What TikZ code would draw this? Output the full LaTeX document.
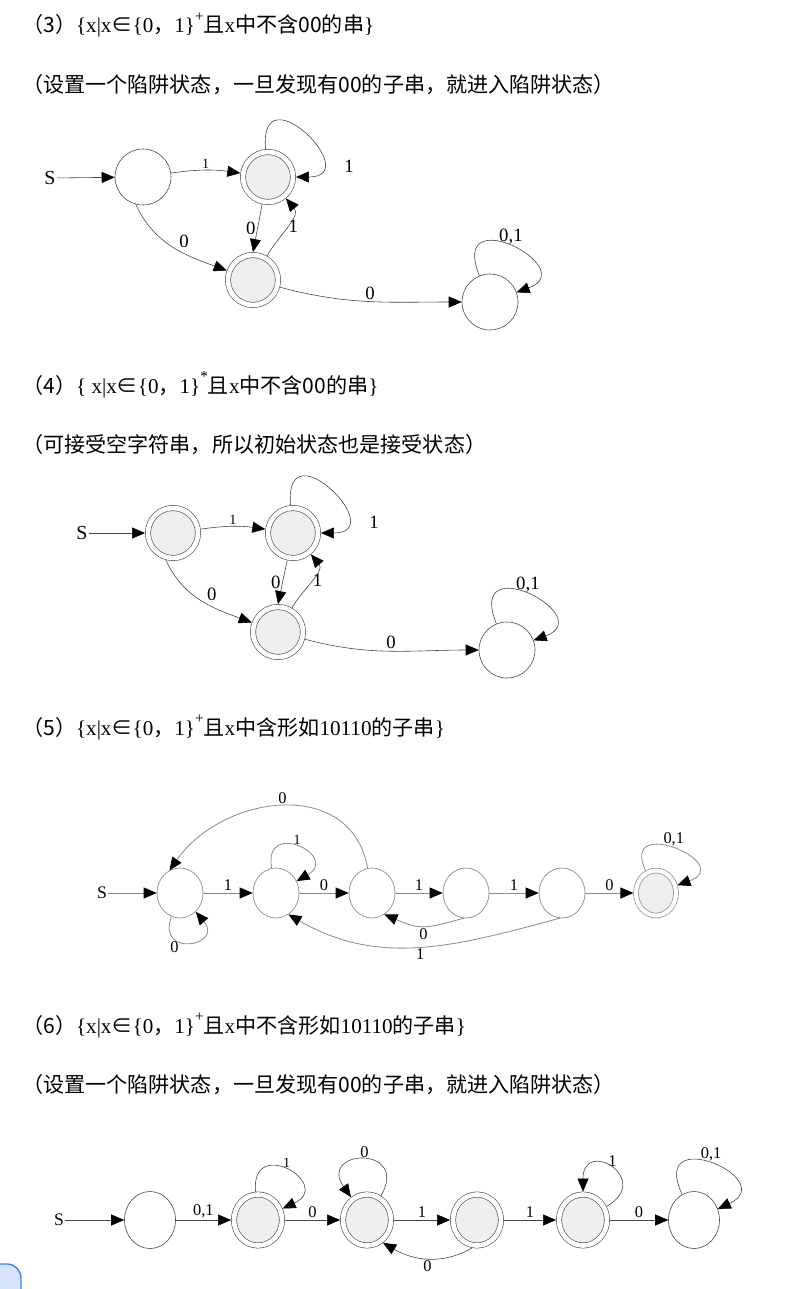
\documentclass[tikz,border=0pt]{standalone}
\usepackage{fontspec}
\setmainfont{Liberation Serif}
\newfontfamily\cjk{Noto Sans CJK SC}
\usepackage{tikz}
\usetikzlibrary{arrows.meta,positioning,shapes.geometric}
\definecolor{edgegray}{HTML}{444444}
\definecolor{lightedge}{HTML}{8C8C8C}
\definecolor{accfill}{HTML}{EFEFEF}
\definecolor{bubble}{HTML}{D6E4FD}
\definecolor{bubbleline}{HTML}{3B82F6}
\newcommand{\zh}[1]{{\cjk #1}}
\newcommand{\upmark}[1]{\raisebox{0.55em}{\fontsize{13pt}{13pt}\selectfont #1}}

\begin{document}
\begin{tikzpicture}[
  x=0.03cm, y=0.03cm,
  head/.style={anchor=base west, inner sep=0pt, font=\fontsize{18pt}{21pt}\selectfont},
  sym/.style={inner sep=1pt, font=\fontsize{17pt}{20pt}\selectfont},
  dfa/.style={circle, draw=edgegray, line width=0.5pt, inner sep=0pt, minimum size=1.68cm},
  acc/.style={dfa, fill=accfill, double=white, double distance=4pt, minimum size=1.5cm, outer sep=2.5pt},
  dfafive/.style={ellipse, draw=lightedge, line width=0.6pt, inner sep=0pt, minimum width=1.38cm, minimum height=1.5cm},
  accfive/.style={dfafive, fill=accfill, double=white, double distance=3.5pt, minimum width=1.2cm, minimum height=1.35cm, outer sep=2.2pt},
  dfasix/.style={ellipse, draw=edgegray, line width=0.5pt, inner sep=0pt, minimum width=1.53cm, minimum height=1.71cm},
  accsix/.style={dfasix, fill=accfill, double=white, double distance=4pt, minimum width=1.44cm, minimum height=1.53cm, outer sep=2.5pt},
  arr/.style={-{Triangle[length=3.9mm, width=3.3mm, color=black]}, draw=edgegray, line width=0.5pt},
  arrfive/.style={arr, draw=lightedge, line width=0.7pt},
  lbl/.style={inner sep=1.5pt, font=\fontsize{16pt}{18pt}\selectfont},
  lbls/.style={lbl, font=\fontsize{12pt}{14pt}\selectfont},
  lblfive/.style={lbl, font=\fontsize{14pt}{16pt}\selectfont}
]
\useasboundingbox (0,0) rectangle (803,-1289);
\draw[bubbleline, fill=bubble, line width=1.2pt, rounded corners=0.42cm] (-40,-1264) rectangle (21,-1330);

% (3)
\node[head] (h3) at (22,-33) {\zh{（3）}\{x|x\zh{∈}\{0\zh{，}1\}\upmark{+}\zh{且}x\zh{中不含00的串}\}};
\node[head] (n3) at (22,-92) {\zh{（设置一个陷阱状态，一旦发现有00的子串，就进入陷阱状态）}};
\node[sym] (s3) at (50,-178) {S};
\node[dfa] (a1) at (143,-177) {};
\node[acc] (a2) at (268,-177) {};
\node[acc] (a3) at (253,-280) {};
\node[dfa] (a4) at (490,-302) {};
\draw[arr] (s3) -- (a1);
\draw[arr] (a1) to[bend left=8] node[lbls, above] {1} (a2);
\draw[arr] (a2) to[out=95, in=0, out distance=2.4cm, in distance=2.1cm] node[lbl, pos=.8, right=0.7cm] {1} (a2);
\draw[arr] (a2.258) -- node[lbl, left] {0} (a3.north);
\draw[arr] (a3) to[out=60, in=-50] node[lbl, right] {1} (a2);
\draw[arr] (a1.255) to[out=-65, in=160] node[lbl, pos=.55, above right] {0} (a3);
\draw[arr] (a3) to[out=-15, in=180] node[lbl, above] {0} (a4);
\draw[arr] (a4) to[out=112, in=20, out distance=2.5cm, in distance=2.1cm] node[lbl, above] {0,1} (a4);

% (4)
\node[head] (h4) at (22,-393) {\zh{（4）}\{ x|x\zh{∈}\{0\zh{，}1\}\upmark{*}\zh{且}x\zh{中不含00的串}\}};
\node[head] (n4) at (22,-452) {\zh{（可接受空字符串，所以初始状态也是接受状态）}};
\node[sym] (s4) at (82,-533) {S};
\node[acc] (b1) at (173,-533) {};
\node[acc] (b2) at (293,-533) {};
\node[acc] (b3) at (278,-632) {};
\node[dfa] (b4) at (507,-650) {};
\draw[arr] (s4) -- (b1);
\draw[arr] (b1) to[bend left=8] node[lbls, above] {1} (b2);
\draw[arr] (b2) to[out=95, in=0, out distance=2.4cm, in distance=2.1cm] node[lbl, pos=.8, right=0.7cm] {1} (b2);
\draw[arr] (b2.258) -- node[lbl, left] {0} (b3.north);
\draw[arr] (b3) to[out=60, in=-50] node[lbl, right] {1} (b2);
\draw[arr] (b1.255) to[out=-65, in=160] node[lbl, pos=.55, above right] {0} (b3);
\draw[arr] (b3) to[out=-15, in=180] node[lbl, above] {0} (b4);
\draw[arr] (b4) to[out=112, in=20, out distance=2.5cm, in distance=2.1cm] node[lbl, above] {0,1} (b4);

% (5)
\node[head] (h5) at (22,-735) {\zh{（5）}\{x|x\zh{∈}\{0\zh{，}1\}\upmark{+}\zh{且}x\zh{中含形如}10110\zh{的子串}\}};
\node[sym, font=\fontsize{15pt}{18pt}\selectfont] (s5) at (102,-893) {S};
\node[dfafive] (q0) at (180,-893) {};
\node[dfafive] (q1) at (276,-893) {};
\node[dfafive] (q2) at (372,-893) {};
\node[dfafive] (q3) at (466,-893) {};
\node[dfafive] (q4) at (562,-893) {};
\node[accfive] (q5) at (656,-893) {};
\draw[arrfive] (s5) -- (q0);
\draw[arrfive] (q0) -- node[lblfive, above] {1} (q1);
\draw[arrfive] (q1) -- node[lblfive, above] {0} (q2);
\draw[arrfive] (q2) -- node[lblfive, above] {1} (q3);
\draw[arrfive] (q3) -- node[lblfive, above] {1} (q4);
\draw[arrfive] (q4) -- node[lblfive, above] {0} (q5);
\draw[arrfive] (q2.100) to[out=100, in=55, looseness=1.2] node[lblfive, above] {0} (q0.115);
\draw[arrfive] (q1) to[out=100, in=30, looseness=4.6] node[lbls, above] {1} (q1);
\draw[arrfive] (q0) to[out=250, in=-50, looseness=4.6] node[lblfive, pos=.35, below left=-3pt] {0} (q0);
\draw[arrfive] (q3.-95) to[out=-165, in=-23, looseness=1.3] node[lblfive, below] {0} (q2.-60);
\draw[arrfive] (q4.-95) to[out=-165, in=-30] node[lblfive, below] {1} (q1.-60);
\draw[arrfive] (q5) to[out=115, in=20, looseness=4.6] node[lblfive, above] {0,1} (q5);

% (6)
\node[head] (h6) at (22,-1033) {\zh{（6）}\{x|x\zh{∈}\{0\zh{，}1\}\upmark{+}\zh{且}x\zh{中不含形如}10110\zh{的子串}\}};
\node[head] (n6) at (22,-1092) {\zh{（设置一个陷阱状态，一旦发现有00的子串，就进入陷阱状态）}};
\node[sym, font=\fontsize{15pt}{18pt}\selectfont] (s6) at (59,-1220) {S};
\node[dfasix] (p0) at (150,-1220) {};
\node[accsix] (p1) at (258,-1220) {};
\node[accsix] (p2) at (367,-1220) {};
\node[accsix] (p3) at (477,-1220) {};
\node[accsix] (p4) at (583,-1220) {};
\node[dfasix] (p5) at (694,-1220) {};
\draw[arr] (s6) -- (p0);
\draw[arr] (p0) -- node[lblfive, above] {0,1} (p1);
\draw[arr] (p1) -- node[lblfive, above] {0} (p2);
\draw[arr] (p2) -- node[lblfive, above] {1} (p3);
\draw[arr] (p3) -- node[lblfive, above] {1} (p4);
\draw[arr] (p4) -- node[lblfive, above] {0} (p5);
\draw[arr] (p1) to[out=95, in=25, looseness=4.6] node[lbls, above] {1} (p1);
\draw[arr] (p2) to[out=60, in=125, looseness=5] node[lblfive, above] {0} (p2);
\draw[arr] (p3.-100) to[out=-150, in=-30] node[lblfive, below] {0} (p2.-55);
\draw[arr] (p4) to[out=30, in=90, looseness=5] node[lblfive, pos=.5, above] {1} (p4);
\draw[arr] (p5) to[out=115, in=25, out distance=2.4cm, in distance=2.1cm] node[lblfive, above] {0,1} (p5);
\end{tikzpicture}
\end{document}
